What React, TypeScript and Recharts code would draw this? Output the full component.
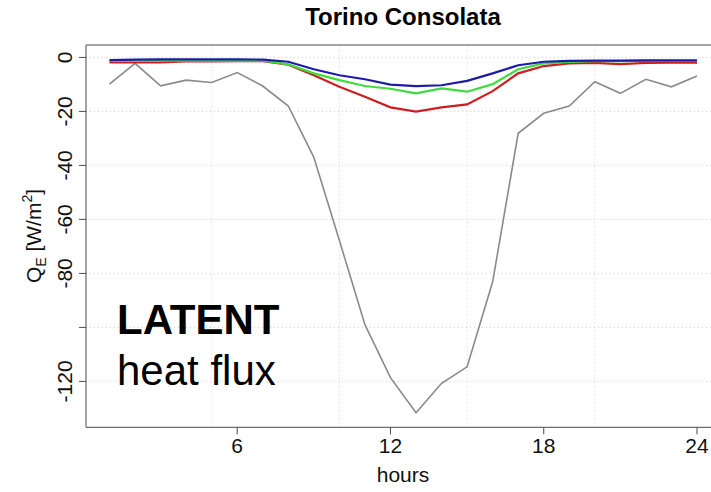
import React from "react";
import {
  LineChart,
  Line,
  XAxis,
  YAxis,
  ReferenceLine,
} from "recharts";

// Hour of day (1..24)
const hours = [1, 2, 3, 4, 5, 6, 7, 8, 9, 10, 11, 12, 13, 14, 15, 16, 17, 18, 19, 20, 21, 22, 23, 24];

// Latent heat flux Q_E [W/m2] for each series
const graySeries = [-9.9, -2.2, -10.5, -8.4, -9.3, -5.6, -10.6, -18.0, -37.0, -67.8, -99.0, -118.6, -131.6, -120.7, -114.6, -83.1, -28.1, -20.7, -18.0, -9.0, -13.3, -8.1, -10.9, -6.9];
const redSeries = [-1.8, -1.8, -1.8, -1.5, -1.5, -1.4, -1.4, -2.7, -6.6, -10.9, -14.6, -18.5, -20.1, -18.5, -17.4, -12.5, -5.9, -3.2, -2.2, -2.0, -2.5, -2.0, -1.9, -1.9];
const greenSeries = [-1.3, -1.3, -1.2, -1.2, -1.2, -1.2, -1.2, -2.6, -5.9, -8.4, -10.6, -11.6, -13.3, -11.5, -12.7, -9.9, -4.4, -2.2, -1.7, -1.4, -1.4, -1.3, -1.3, -1.3];
const blueSeries = [-1.0, -0.8, -0.7, -0.7, -0.7, -0.7, -0.8, -1.6, -4.4, -6.6, -8.1, -10.1, -10.6, -10.3, -8.7, -5.9, -2.9, -1.6, -1.3, -1.2, -1.2, -1.1, -1.1, -1.1];

// Axis ticks and grid positions
const xTicks = [6, 12, 18, 24];
const xGrid = [5, 10, 15, 20];
const yTicks = [0, -20, -40, -60, -80, -100, -120];
const yTickLabels = ["0", "-20", "-40", "-60", "-80", "", "-120"];
const xDomain: [number, number] = [0.08, 24.92];
const yDomain: [number, number] = [-137, 4.6];

const data = hours.map((h, i) => ({
  hour: h,
  gray: graySeries[i],
  red: redSeries[i],
  green: greenSeries[i],
  blue: blueSeries[i],
}));

const FONT = "'Liberation Sans', Arial, Helvetica, sans-serif";
const AXIS = "#4a4a4a";
const GRID = "#d0d0d0";

const XTick = (props: any) => {
  const { x, payload } = props;
  return (
    <text x={x} y={453} textAnchor="middle" fontFamily={FONT} fontSize={21} fill="#111">
      {payload.value}
    </text>
  );
};

const YTick = (props: any) => {
  const { y, payload } = props;
  const idx = yTicks.indexOf(payload.value);
  const label = idx >= 0 ? yTickLabels[idx] : String(payload.value);
  if (!label) return <g />;
  return (
    <text
      transform={`translate(72, ${y}) rotate(-90)`}
      textAnchor="middle"
      fontFamily={FONT}
      fontSize={21}
      fill="#111"
    >
      {label}
    </text>
  );
};

export default function App() {
  return (
    <div
      style={{
        position: "absolute",
        left: 0,
        top: 0,
        width: 711,
        height: 492,
        overflow: "hidden",
        background: "#fff",
      }}
    >
      <LineChart
        width={740}
        height={492}
        data={data}
        margin={{ top: 45, right: 19.5, bottom: 0, left: 0 }}
      >
        <XAxis
          dataKey="hour"
          type="number"
          domain={xDomain}
          ticks={xTicks}
          allowDataOverflow
          height={64.7}
          tickSize={7}
          axisLine={{ stroke: AXIS }}
          tickLine={{ stroke: AXIS }}
          tick={<XTick />}
        />
        <YAxis
          type="number"
          domain={yDomain}
          ticks={yTicks}
          allowDataOverflow
          width={86}
          tickSize={7}
          axisLine={{ stroke: AXIS }}
          tickLine={{ stroke: AXIS }}
          tick={<YTick />}
          interval={0}
        />
        {xGrid.map((v) => (
          <ReferenceLine key={`gx${v}`} x={v} stroke={GRID} strokeDasharray="1 3" />
        ))}
        {yTicks.map((v) => (
          <ReferenceLine key={`gy${v}`} y={v} stroke={GRID} strokeDasharray="1 3" />
        ))}
        {/* top edge of the plot box */}
        <ReferenceLine y={yDomain[1]} stroke={AXIS} />
        <Line dataKey="gray" stroke="#8a8a8a" strokeWidth={1.6} dot={false} isAnimationActive={false} />
        <Line dataKey="red" stroke="#cc1f1f" strokeWidth={2.2} dot={false} isAnimationActive={false} />
        <Line dataKey="green" stroke="#3fdc3f" strokeWidth={2.2} dot={false} isAnimationActive={false} />
        <Line dataKey="blue" stroke="#1c1ca8" strokeWidth={2.2} dot={false} isAnimationActive={false} />
      </LineChart>
      <svg
        width={711}
        height={492}
        style={{ position: "absolute", left: 0, top: 0, pointerEvents: "none" }}
      >
        <text x={403} y={25} textAnchor="middle" fontFamily={FONT} fontSize={24} fontWeight="bold" fill="#000">
          Torino Consolata
        </text>
        <text x={403} y={482} textAnchor="middle" fontFamily={FONT} fontSize={21} fill="#111">
          hours
        </text>
        <text
          transform="translate(41, 236) rotate(-90)"
          textAnchor="middle"
          fontFamily={FONT}
          fontSize={21}
          fill="#111"
        >
          Q
          <tspan fontSize={14} dy={5}>E</tspan>
          <tspan dy={-5}> [W/m</tspan>
          <tspan fontSize={14} dy={-9}>2</tspan>
          <tspan dy={9}>]</tspan>
        </text>
        <text x={117} y={334} fontFamily={FONT} fontSize={42} fontWeight="bold" fill="#000">
          LATENT
        </text>
        <text x={117} y={385} fontFamily={FONT} fontSize={42} fill="#000">
          heat flux
        </text>
      </svg>
    </div>
  );
}
